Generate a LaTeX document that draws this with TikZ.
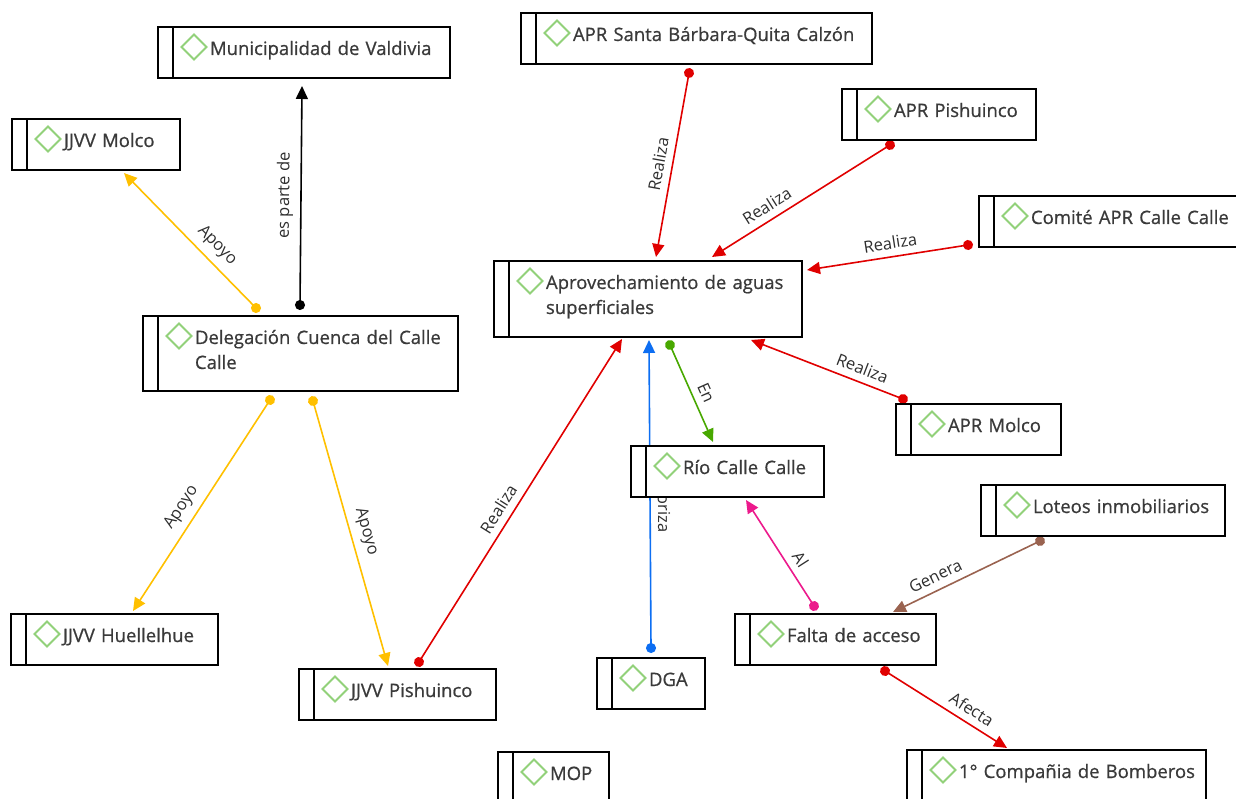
\documentclass[tikz,border=0pt]{standalone}
\usepackage{fontspec}
\setmainfont{Open Sans}
\newfontfamily\conceptfont{Open Sans}[FakeBold=0.7]
\usetikzlibrary{arrows.meta,backgrounds}
\definecolor{cmRed}{HTML}{E00000}
\definecolor{cmYellow}{HTML}{FFC000}
\definecolor{cmGreen}{HTML}{48A800}
\definecolor{cmBlue}{HTML}{0D6EF2}
\definecolor{cmPink}{HTML}{EC1A8C}
\definecolor{cmBrown}{HTML}{9A6350}
\definecolor{cmIcon}{HTML}{92D17A}
\definecolor{cmText}{HTML}{3A3A3A}
\definecolor{cmLabel}{HTML}{2E2E2E}
\tikzset{
 cm icon/.style={draw=cmIcon,line width=1.8pt},
 cm concept/.style={draw=black,line width=1.8pt,fill=white,anchor=north west,
                    outer sep=0pt,inner sep=0pt,align=left,text width=#1,
                    text height=28pt,text depth=23pt,text=cmText,
                    font=\conceptfont\fontsize{18.5}{25}\selectfont,
                    execute at begin node={\leftskip=52pt\relax},
                    path picture={
                      \draw[line width=1.8pt] ([xshift=15pt]path picture bounding box.north west)
                        -- ([xshift=15pt]path picture bounding box.south west);
                      \draw[cm icon] ([shift={(36,20)}]path picture bounding box.north west)
                        +(-12.5,0) -- +(0,-12.5) -- +(12.5,0) -- +(0,12.5) -- cycle;
                    }},
 cm two lines/.style={text depth=47pt},
 cm link/.style={draw=#1,line width=1.6pt,shorten <=-5pt,
                 arrows={Circle[length=10pt]-Triangle[length=13pt,width=12pt]}},
 cm label/.style={font=\fontsize{16.5}{19}\selectfont,text=cmLabel,sloped,
                  above=5pt,inner sep=2pt}
}
\begin{document}
\begin{tikzpicture}[x=1pt,y=-1pt]
 \useasboundingbox (0,0) rectangle (1236,799);

 \node[cm concept=292pt] (muni) at (158,27) {Municipalidad de Valdivia};
 \node[cm concept=168pt] (molco) at (12,119) {JJVV Molco};
 \node[cm concept=351pt] (santa) at (521,13) {APR Santa Bárbara-Quita Calzón};
 \node[cm concept=194pt] (aprpish) at (842,89) {APR Pishuinco};
 \node[cm concept=270pt] (comite) at (979,196) {Comité APR Calle Calle};
 \node[cm concept=308pt,cm two lines,text depth=48pt] (aprov) at (494,261) {Aprovechamiento de aguas\\superficiales};
 \node[cm concept=315pt,cm two lines] (deleg) at (143,316) {Delegación Cuenca del Calle\\Calle};
 \node[cm concept=165pt] (aprmolco) at (896,404) {APR Molco};
 \node[cm concept=193pt] (rio) at (631,446) {Río Calle Calle};
 \node[cm concept=244pt] (loteos) at (981,485) {Loteos inmobiliarios};
 \node[cm concept=207pt] (huell) at (11,614) {JJVV Huellelhue};
 \node[cm concept=201pt] (falta) at (735,614) {Falta de acceso};
 \node[cm concept=197pt] (jjpish) at (299,669) {JJVV Pishuinco};
 \node[cm concept=108pt] (dga) at (597,658) {DGA};
 \node[cm concept=111pt] (mop) at (498,752) {MOP};
 \node[cm concept=299pt] (bomb) at (907,750) {1° Compañia de Bomberos};

 \begin{pgfonlayer}{background}
 % links of the Delegación
 \draw[cm link=black] ([shift={(157,-11)}]deleg.north west)
   -- node[cm label,pos=.5] {es parte de} ([shift={(144,59)}]muni.north west);
 \draw[cm link=cmYellow] ([shift={(113,-8)}]deleg.north west)
   -- node[cm label,pos=.38] {Apoyo} ([shift={(112,54)}]molco.north west);
 \draw[cm link=cmYellow] ([shift={(127,84)}]deleg.north west)
   -- node[cm label,pos=.55] {Apoyo} ([shift={(122,-3)}]huell.north west);
 \draw[cm link=cmYellow] ([shift={(170,85)}]deleg.north west)
   -- node[cm label,pos=.51] {Apoyo} ([shift={(89,-3)}]jjpish.north west);

 % who does the Aprovechamiento
 \draw[cm link=cmRed] ([shift={(120,-7)}]jjpish.north west)
   -- node[cm label,pos=.45] {Realiza} ([shift={(128,78)}]aprov.north west);
 \draw[cm link=cmRed] ([shift={(168,60)}]santa.north west)
   -- node[cm label,pos=.51] {Realiza} ([shift={(162,-4)}]aprov.north west);
 \draw[cm link=cmRed] ([shift={(48,56)}]aprpish.north west)
   -- node[cm label,pos=.65] {Realiza} ([shift={(218,-4)}]aprov.north west);
 \draw[cm link=cmRed] ([shift={(-11,49)}]comite.north west)
   -- node[cm label,pos=.47] {Realiza} ([shift={(313,9)}]aprov.north west);
 \draw[cm link=cmRed] ([shift={(7,-5)}]aprmolco.north west)
   -- node[cm label,pos=.30] {Realiza} ([shift={(257,79)}]aprov.north west);
 \draw[cm link=cmGreen] ([shift={(176,84)}]aprov.north west)
   -- node[cm label,pos=.55] {En} ([shift={(82,-4)}]rio.north west);
 \draw[cm link=cmBlue] ([shift={(54,-10)}]dga.north west)
   -- node[cm label,pos=.48] {Autoriza} ([shift={(155,79)}]aprov.north west);

 % Falta de acceso
 \draw[cm link=cmPink] ([shift={(79,-8)}]falta.north west)
   -- node[cm label,pos=.37] {Al} ([shift={(115,54)}]rio.north west);
 \draw[cm link=cmBrown] ([shift={(59,56)}]loteos.north west)
   -- node[cm label,pos=.67] {Genera} ([shift={(158,-2)}]falta.north west);
 \draw[cm link=cmRed] ([shift={(150,57)}]falta.north west)
   -- node[cm label,pos=.65] {Afecta} ([shift={(100,-2)}]bomb.north west);
 \end{pgfonlayer}
\end{tikzpicture}
\end{document}
